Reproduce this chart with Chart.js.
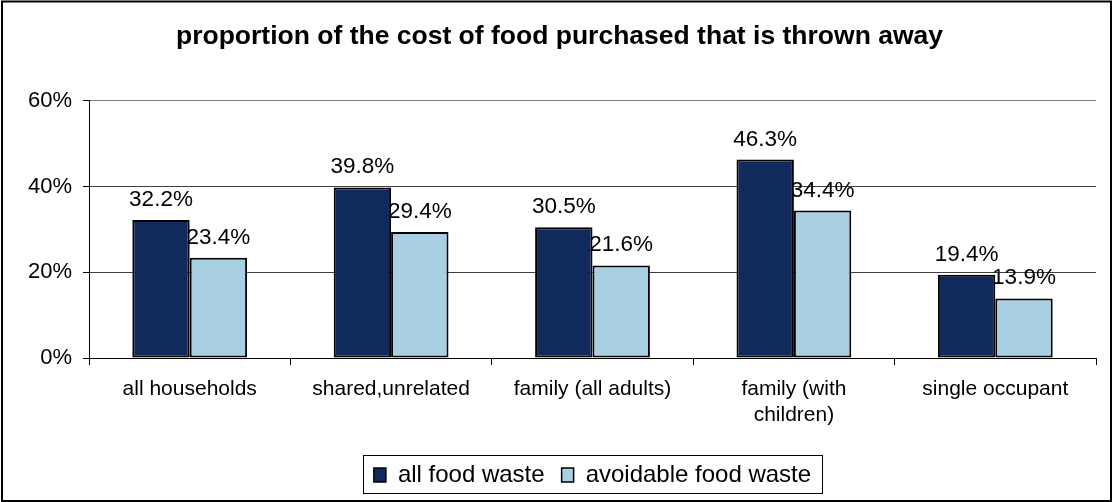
<!DOCTYPE html>
<html>
<head>
<meta charset="utf-8">
<script src="https://cdn.jsdelivr.net/npm/chart.js@4/dist/chart.umd.min.js"></script>
<style>
  html, body { margin: 0; padding: 0; background: #fff; }
  #wrap { position: relative; width: 1112px; height: 502px; }
</style>
</head>
<body>
<div id="wrap"><canvas id="waste" width="1112" height="502"></canvas></div>
<script>
var categories = ['all households', 'shared,unrelated', 'family (all adults)', ['family (with', 'children)'], 'single occupant'];
var all_waste = [32.2, 39.8, 30.5, 46.3, 19.4];
var avoidable_waste = [23.4, 29.4, 21.6, 34.4, 13.9];
var y_ticks = [0, 20, 40, 60];

var FONT = "'Liberation Sans', Arial, sans-serif";

// outer chart border, legend frame, block offsets
var frame_plugin = {
	id: 'frame',
	afterLayout: function(chart) {
		// title and legend sit a bit right of centre in the original
		if (chart.titleBlock) { chart.titleBlock.left += 9; chart.titleBlock.right += 9; }
		if (chart.legend) { chart.legend.left += 42; chart.legend.right += 42; }
	},
	beforeDraw: function(chart) {
		var c = chart.ctx;
		c.save();
		c.fillStyle = '#fff';
		c.fillRect(0, 0, chart.width, chart.height);
		c.strokeStyle = '#000';
		c.lineWidth = 2;
		c.strokeRect(2, 1.5, chart.width - 3, chart.height - 2.5);
		c.restore();
	},
	afterDraw: function(chart) {
		// box around the legend items
		var lg = chart.legend;
		if (!lg || !lg.legendHitBoxes.length) return;
		var l = Infinity, r = -Infinity, t = Infinity, b = -Infinity;
		lg.legendHitBoxes.forEach(function(h) {
			l = Math.min(l, h.left); r = Math.max(r, h.left + h.width);
			t = Math.min(t, h.top); b = Math.max(b, h.top + h.height);
		});
		var mid = Math.round((t + b) / 2);
		var c = chart.ctx;
		c.save();
		c.strokeStyle = '#000';
		c.lineWidth = 1;
		c.strokeRect(Math.round(l - 11) + 0.5, mid - 20 + 0.5, Math.round(r - l + 22), 38);
		c.restore();
	}
};

// value labels above bars
var label_plugin = {
	id: 'barlabels',
	afterDatasetsDraw: function(chart) {
		var c = chart.ctx;
		c.save();
		c.font = '22.5px ' + FONT;
		c.fillStyle = '#000';
		c.textAlign = 'center';
		c.textBaseline = 'alphabetic';
		chart.data.datasets.forEach(function(ds, i) {
			chart.getDatasetMeta(i).data.forEach(function(bar, j) {
				c.fillText(ds.data[j].toFixed(1) + '%', bar.x, bar.y - 14);
			});
		});
		c.restore();
	}
};

var ctx = document.getElementById('waste');

var waste_data = {
	labels: categories,
	datasets: [{
		label: 'all food waste',
		data: all_waste,
		backgroundColor: '#102a5b',
		borderColor: '#000',
		borderWidth: 2,
		borderSkipped: false,
		categoryPercentage: 0.57,
		barPercentage: 1.0
	}, {
		label: 'avoidable food waste',
		data: avoidable_waste,
		backgroundColor: '#a9cfe2',
		borderColor: '#000',
		borderWidth: 2,
		borderSkipped: false,
		categoryPercentage: 0.57,
		barPercentage: 1.0
	}]
};

var waste_options = {
	responsive: false,
	animation: false,
	layout: { padding: { left: 5, right: 16, top: 0, bottom: 5 } },
	plugins: {
		title: {
			display: true,
			text: 'proportion of the cost of food purchased that is thrown away',
			color: '#000',
			font: { family: FONT, size: 26.5, weight: 'bold' },
			padding: { top: 21, bottom: 48 }
		},
		legend: {
			display: true,
			position: 'bottom',
			labels: {
				color: '#000',
				font: { family: FONT, size: 24 },
				boxWidth: 12,
				boxHeight: 14,
				padding: 17,
				generateLabels: function(chart) {
					return chart.data.datasets.map(function(ds, i) {
						return {
							text: ds.label,
							fillStyle: ds.backgroundColor,
							strokeStyle: '#000',
							lineWidth: 1.5,
							fontColor: '#000',
							datasetIndex: i
						};
					});
				}
			}
		},
		tooltip: { enabled: false }
	},
	scales: {
		x: {
			grid: {
				offset: true,
				drawOnChartArea: true,
				color: function(c) { return c.index === categories.length ? '#808080' : 'rgba(0,0,0,0)'; },
				tickColor: '#000',
				tickLength: 7,
				lineWidth: 1
			},
			border: { color: '#000', width: 1 },
			ticks: {
				color: '#000',
				font: { family: FONT, size: 21 },
				padding: 12,
				maxRotation: 0,
				autoSkip: false
			},
			afterFit: function(scale) { scale.height = 88; }
		},
		y: {
			min: 0,
			max: 60,
			afterBuildTicks: function(scale) {
				scale.ticks = y_ticks.map(function(v) { return { value: v }; });
			},
			grid: {
				color: function(c) { return c.tick && c.tick.value === 60 ? '#808080' : '#404040'; },
				tickColor: '#000',
				tickLength: 6,
				lineWidth: 1
			},
			border: { color: '#000', width: 1 },
			ticks: {
				color: '#000',
				font: { family: FONT, size: 22 },
				padding: 11,
				callback: function(v) { return v + '%'; }
			},
			afterFit: function(scale) { scale.width = 84; }
		}
	}
};

var chart = new Chart(ctx, {
	type: 'bar',
	data: waste_data,
	options: waste_options,
	plugins: [frame_plugin, label_plugin]
});
</script>
</body>
</html>
